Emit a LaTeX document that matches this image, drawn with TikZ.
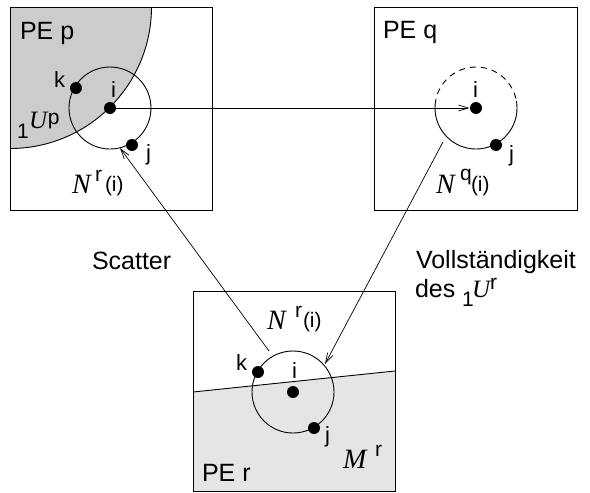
\documentclass[tikz,border=0pt]{standalone}
\usepackage{fontspec}
\setmainfont{Liberation Sans}
\newfontfamily\serifit{Liberation Serif}
\usetikzlibrary{arrows.meta}
\newcommand\bigsf{\fontsize{25}{30}\selectfont}
\newcommand\smsf{\fontsize{22}{26}\selectfont}
\newcommand\supsf{\fontsize{21}{25}\selectfont}
\newcommand\Nfont{\fontsize{28}{30}\selectfont\serifit\itshape}
\newcommand\Ufont{\fontsize{25}{30}\selectfont\serifit\itshape}
\definecolor{pgray}{gray}{0.80}
\definecolor{rgray}{gray}{0.90}
\begin{document}
\begin{tikzpicture}[x=1pt,y=-1pt,line width=0.9pt,
  box/.style={draw,line width=1pt},
  dot/.style={circle,fill=black,inner sep=0pt,minimum size=12pt},
  arr/.style={line width=0.7pt,-{Straight Barb[length=10pt,width=6pt,line width=0.7pt]}},
  txt/.style={anchor=base west,inner sep=0pt,outer sep=0pt}]
\useasboundingbox (0,0) rectangle (590,493);
% shading in PE p
\begin{scope}
\clip (10,7) rectangle (212,210);
\fill[pgray] (10,7) circle[radius=141.5];
\draw (10,7) circle[radius=141.5];
\end{scope}
% shading in PE r
\fill[rgray] (193,392) -- (395,371) -- (395,491) -- (193,491) -- cycle;
\draw (193,392) -- (395,371);
% boxes
\node[box,minimum width=202pt,minimum height=203pt,inner sep=0pt,anchor=north west] (boxp) at (10,7) {};
\node[box,minimum width=203pt,minimum height=203pt,inner sep=0pt,anchor=north west] (boxq) at (374,7) {};
\node[box,minimum width=202pt,minimum height=200pt,inner sep=0pt,anchor=north west] (boxr) at (193,291) {};
% circles
\draw (110,108) circle[radius=41];
\begin{scope}
\clip (420,60) rectangle (540,101);
\draw[dashed,dash pattern=on 6pt off 5pt] (476,108) circle[radius=41];
\end{scope}
\begin{scope}
\clip (420,101) rectangle (540,160);
\draw (476,108) circle[radius=41];
\end{scope}
\draw (293,392) circle[radius=41];
% dots
\node[dot] (ip) at (110,108) {};
\node[dot] (kp) at (76,88) {};
\node[dot] (jp) at (132,145) {};
\node[dot] (iq) at (476,108) {};
\node[dot] (jq) at (496,145) {};
\node[dot] (ir) at (293,392) {};
\node[dot] (kr) at (258,372) {};
\node[dot] (jr) at (314,428) {};
% arrows
\draw[arr] (ip.center) -- (iq);
\coordinate (sc) at (269,351);
\coordinate (sp) at (120,148);
\draw[arr] (sc) -- (sp);
\coordinate (vq) at (443,142);
\coordinate (vr) at (325,364);
\draw[arr] (vq) -- (vr);
% texts PE p
\node[txt] (pep) at (20,39) {\bigsf PE p};
\node[txt] (lkp) at (54,87) {\smsf k};
\node[txt] (lip) at (111,97) {\smsf i};
\node[txt] (ljp) at (146,160) {\smsf j};
\node[txt] (onep) at (17,138) {\supsf 1};
\node[txt] (Up) at (29,128) {\Ufont U};
\node[txt] (supp) at (48,124) {\supsf p};
\node[txt] (Np) at (72,193) {\Nfont N};
\node[txt] (rp) at (95,181) {\supsf r};
\node[txt] (ip2) at (105,191) {\supsf (i)};
% PE q
\node[txt] (peq) at (383,38) {\bigsf PE q};
\node[txt] (liq) at (473,97) {\smsf i};
\node[txt] (ljq) at (509,161) {\smsf j};
\node[txt] (Nq) at (436,193) {\Nfont N};
\node[txt] (qq) at (460,180) {\supsf q};
\node[txt] (iq2) at (471,191) {\supsf (i)};
% PE r
\node[txt] (per) at (202,481) {\bigsf PE r};
\node[txt] (lkr) at (236,370) {\smsf k};
\node[txt] (lir) at (292,378) {\smsf i};
\node[txt] (ljr) at (325,442) {\smsf j};
\node[txt] (Nr) at (267,329) {\Nfont N};
\node[txt] (rr) at (295,317) {\supsf r};
\node[txt] (ir2) at (303,327) {\supsf (i)};
\node[txt] (Mr) at (343,468) {\Nfont M};
\node[txt] (rM) at (375,456) {\supsf r};
% middle labels
\node[txt] (scat) at (92,269) {\bigsf Scatter};
\node[txt] (voll) at (416,268) {\bigsf Vollständigkeit};
\node[txt] (des) at (415,297) {\bigsf des};
\node[txt] (oner) at (462,306) {\supsf 1};
\node[txt] (Ur) at (472,297) {\Ufont U};
\node[txt] (supr) at (490,289) {\supsf r};
\end{tikzpicture}
\end{document}
